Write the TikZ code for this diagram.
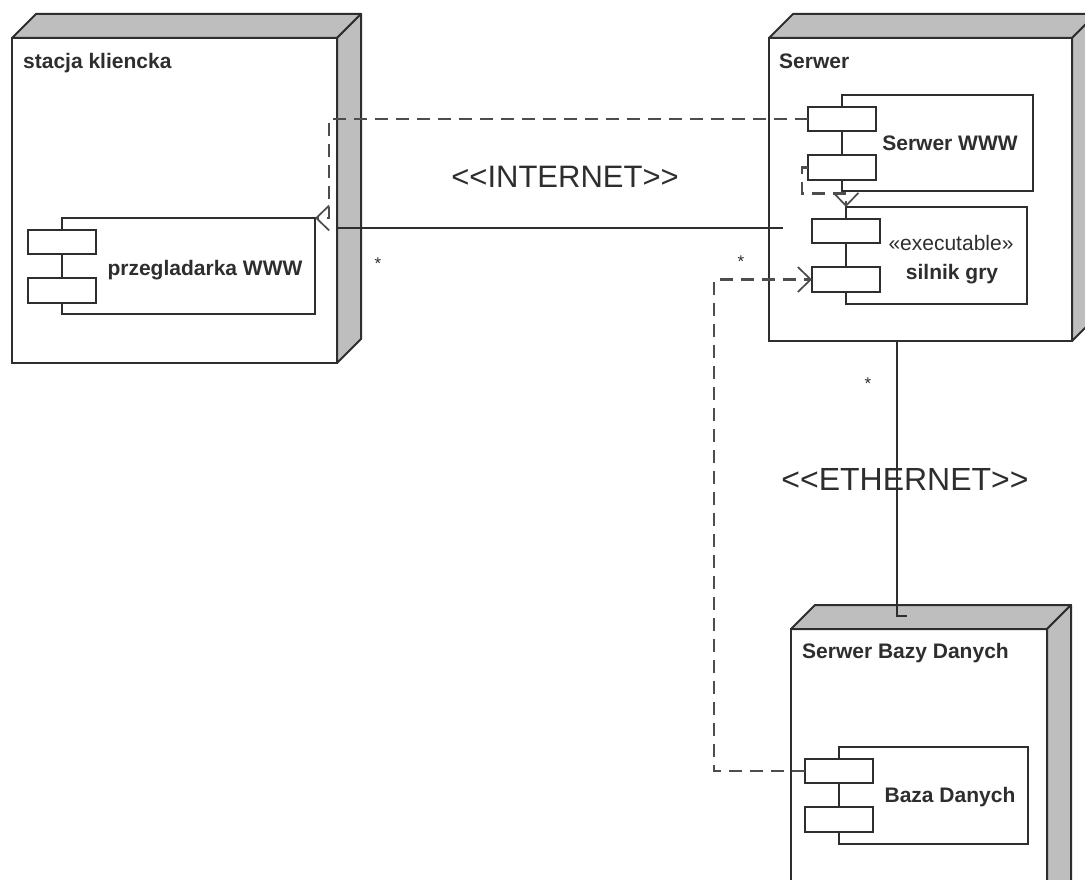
\documentclass[tikz,border=0pt]{standalone}
\usepackage{fontspec}
\setmainfont{Liberation Sans}[Ligatures=TeXOff]
\usetikzlibrary{arrows.meta}
\definecolor{ln}{HTML}{2E2E2E}
\definecolor{face}{HTML}{BEBEBE}
\tikzset{
  nodeface/.style={draw=ln, line width=2pt, fill=white, inner sep=0pt, outer sep=0pt, anchor=north west},
  sideface/.style={draw=ln, line width=2pt, fill=face, line join=round},
  compbox/.style={draw=ln, line width=1.7pt, fill=white, inner sep=0pt, outer sep=0pt, anchor=north west},
  portbox/.style={draw=ln, line width=1.7pt, fill=white, inner sep=0pt, outer sep=0pt, minimum width=68pt, minimum height=24.5pt},
  titletext/.style={font=\fontsize{21}{24}\selectfont\bfseries, anchor=base west, inner sep=0pt, text=ln},
  clabel/.style={font=\fontsize{21}{24}\selectfont\bfseries, anchor=base, inner sep=0pt, text=ln},
  stereo/.style={font=\fontsize{21}{24}\selectfont, anchor=base, inner sep=0pt, text=ln},
  netlabel/.style={font=\fontsize{31}{36}\selectfont, anchor=base, inner sep=0pt, text=ln},
  mult/.style={font=\fontsize{17}{18}\selectfont, anchor=base, inner sep=0pt, text=ln},
  link/.style={draw=ln, line width=2pt},
  dep/.style={draw=ln!85, line width=2.3pt, dash pattern=on 13pt off 8pt,
    -{Straight Barb[length=13pt,width=25pt,line width=1.7pt]}},
}
\newcommand{\depnode}[5]{%
  \node[nodeface, minimum width=#4pt, minimum height=#5pt] (#1) at (#2,#3) {};
  \draw[sideface] (#1.north west) -- ([xshift=24pt,yshift=24pt]#1.north west)
     -- ([xshift=24pt,yshift=24pt]#1.north east) -- (#1.north east) -- cycle;
  \draw[sideface] (#1.north east) -- ([xshift=24pt,yshift=24pt]#1.north east)
     -- ([xshift=24pt,yshift=24pt]#1.south east) -- (#1.south east) -- cycle;
}
\newcommand{\umlcomp}[5]{%
  \node[compbox, minimum width=#4pt, minimum height=#5pt] (#1) at (#2,#3) {};
  \node[portbox] (#1-a) at ([yshift=-24pt]#1.north west) {};
  \node[portbox] (#1-b) at ([yshift=-72.5pt]#1.north west) {};
}
\begin{document}
\begin{tikzpicture}[x=1pt, y=-1pt]
\useasboundingbox (0,0) rectangle (1085,880);
\clip (0,0) rectangle (1085,880);
\fill[white] (0,0) rectangle (1085,880);

% deployment nodes
\depnode{client}{12}{38}{325}{325}
\depnode{server}{769}{38}{303}{303}
\depnode{dbserver}{791}{629}{256}{300}

\node[titletext] (tclient) at (23,69) {stacja kliencka};
\node[titletext] (tserver) at (779,69) {Serwer};
\node[titletext] (tdb) at (802,658) {Serwer Bazy Danych};

% components
\umlcomp{browser}{62}{218}{253}{96}
\umlcomp{www}{842}{95}{191}{96}
\umlcomp{engine}{846}{207}{181}{97}
\umlcomp{db}{839}{747}{189}{97}

\node[clabel] (lbrowser) at (205,275) {przegladarka WWW};
\node[clabel] (lwww) at (950,151) {Serwer WWW};
\node[stereo] (lexe) at (951,250) {«executable»};
\node[clabel] (lengine) at (952,279) {silnik gry};
\node[clabel] (ldb) at (950,802) {Baza Danych};

% connectors
\coordinate (inetend) at (783,228);
\draw[link] (inetend -| client.east) -- (inetend);
\draw[dep] (www-a.west) -| ([xshift=14pt]browser.north east) -- (browser.north east);
\draw[dep] (www-b.west) -- ++(-6,0) -- ++(0,26) -| (engine.north west);
\draw[dep] (db-a.west) -- ++(-91,0) |- (engine-b.west);
\coordinate (ethtop) at (897,616);
\draw[link] (ethtop |- server.south) -- (ethtop) -- ++(10,0);

% labels
\node[netlabel] (inet) at (565,187) {<<INTERNET>>};
\node[netlabel, font=\fontsize{32}{38}\selectfont] (eth) at (905,490) {<<ETHERNET>>};
\node[mult] (m1) at (378,269) {*};
\node[mult] (m2) at (741,267) {*};
\node[mult] (m3) at (868,389) {*};
\end{tikzpicture}
\end{document}
